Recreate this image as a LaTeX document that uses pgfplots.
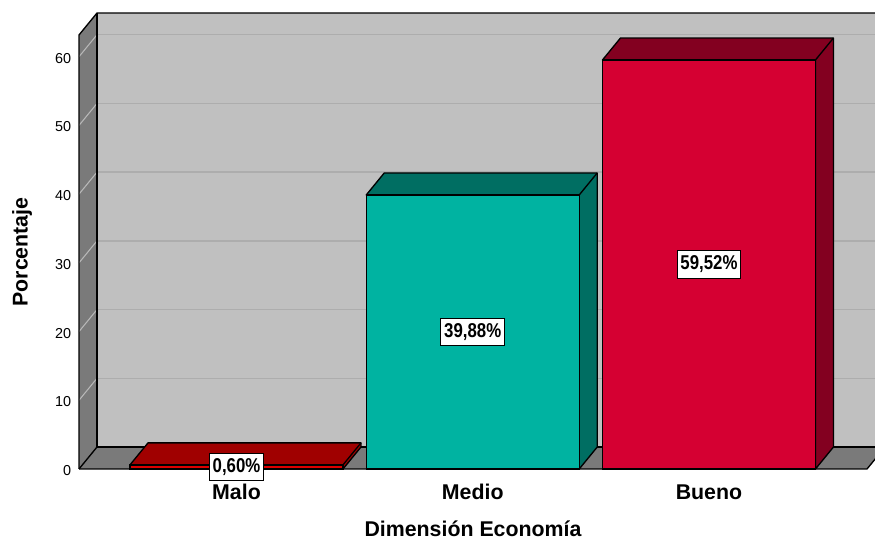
\documentclass[border=0pt]{standalone}
\usepackage{fontspec}
\setmainfont{Liberation Sans}
\usepackage{graphicx}
\usepackage{pgfplots}
\pgfplotsset{compat=1.18}

\definecolor{wallback}{HTML}{C0C0C0}
\definecolor{wallside}{HTML}{7A7A7A}
\definecolor{gridback}{HTML}{ADADAD}
\definecolor{gridside}{HTML}{B8B8B8}
\definecolor{maloF}{HTML}{DD0000}
\definecolor{maloD}{HTML}{A00000}
\definecolor{medioF}{HTML}{00B3A1}
\definecolor{medioD}{HTML}{006E62}
\definecolor{buenoF}{HTML}{D50032}
\definecolor{buenoD}{HTML}{830020}

\newcommand{\dX}{0.0762}
\newcommand{\dY}{3.2}
\newcommand{\hw}{0.4508}
\newcommand{\XL}{-0.6667}
\newcommand{\XR}{2.669}
\newcommand{\YT}{63.16}

% #1 category position, #2 value, #3 front colour, #4 dark colour
\newcommand{\threedbar}[4]{%
  \fill[#4, draw=black, line width=1pt, line join=round]
    (axis cs:#1+\hw,0) -- (axis cs:#1+\hw+\dX,\dY) -- (axis cs:#1+\hw+\dX,#2+\dY)
    -- (axis cs:#1-\hw+\dX,#2+\dY) -- (axis cs:#1-\hw,#2) -- (axis cs:#1+\hw,#2) -- cycle;
  \draw[black, line width=1pt] (axis cs:#1+\hw,#2) -- (axis cs:#1+\hw+\dX,#2+\dY);
  \addplot[ybar, bar width=0.9016, bar shift=0pt, fill=#3, draw=black, line width=1pt]
    coordinates {(#1,#2)};
}
\newcommand{\barlabel}[3]{%
  \node[fill=white, draw=black, line width=0.8pt, inner xsep=2.5pt, inner ysep=3.5pt,
        text height=11pt, text depth=2.8pt, font=\bfseries\fontsize{15}{16}\selectfont]
    at (axis cs:#1,#2/2) {\scalebox{0.84}[1]{#3}};
}

\begin{document}
\begin{tikzpicture}
\begin{axis}[
  at={(59.25pt,57.75pt)}, anchor=south west,
  scale only axis, width=591pt, height=325.5pt,
  xmin=\XL, xmax=\XR, ymin=0, ymax=\YT,
  clip=false,
  axis lines=left,
  axis line style={draw=none},
  major tick length=0pt,
  xtick={0,1,2},
  xticklabels={Malo,Medio,Bueno},
  ytick={0,10,20,30,40,50,60},
  /pgf/number format/assume math mode=true,
  yticklabel style={font=\fontsize{10.8}{12}\selectfont, xshift=-2.4pt, yshift=-1.2pt},
  xticklabel style={font=\bfseries\fontsize{16}{18}\selectfont, yshift=-8pt},
  xlabel={Dimensión Economía},
  ylabel={Porcentaje},
  xlabel style={font=\bfseries\fontsize{16}{18}\selectfont, at={(axis description cs:0.5,0)}, anchor=center, yshift=-45pt},
  ylabel style={font=\bfseries\fontsize{16}{18}\selectfont, at={(axis description cs:0,0.5)}, anchor=center, yshift=42.75pt},
]
% back wall
\fill[wallback] (axis cs:\XL+\dX,\dY) rectangle (axis cs:\XR+\dX+0.2,\YT+\dY);
% left wall
\fill[wallside] (axis cs:\XL,0) -- (axis cs:\XL,\YT) -- (axis cs:\XL+\dX,\YT+\dY) -- (axis cs:\XL+\dX,\dY) -- cycle;
% grid lines
\pgfplotsinvokeforeach{10,20,30,40,50,60}{
  \draw[gridback, line width=1pt] (axis cs:\XL+\dX,#1+\dY) -- (axis cs:\XR+\dX+0.2,#1+\dY);
  \draw[gridside, line width=0.8pt] (axis cs:\XL,#1) -- (axis cs:\XL+\dX,#1+\dY);
}
% floor
\fill[wallside] (axis cs:\XL,0) -- (axis cs:\XR,0) -- (axis cs:\XR+\dX,\dY) -- (axis cs:\XL+\dX,\dY) -- cycle;
% edges
\draw[black, line width=1pt] (axis cs:\XL,0) -- (axis cs:\XL,\YT) -- (axis cs:\XL+\dX,\YT+\dY) -- (axis cs:\XR+\dX+0.2,\YT+\dY);
\draw[black, line width=1pt] (axis cs:\XL+\dX,\YT+\dY) -- (axis cs:\XL+\dX,\dY) -- (axis cs:\XR+\dX+0.2,\dY);
\draw[black, line width=1pt] (axis cs:\XL,0) -- (axis cs:\XL+\dX,\dY);
\draw[black, line width=1pt] (axis cs:\XL,0) -- (axis cs:\XR,0) -- (axis cs:\XR+\dX,\dY);
% bars
\threedbar{0}{0.60}{maloF}{maloD}
\threedbar{1}{39.88}{medioF}{medioD}
\threedbar{2}{59.52}{buenoF}{buenoD}
% labels
\barlabel{0}{0.60}{0,60\%}
\barlabel{1}{39.88}{39,88\%}
\barlabel{2}{59.52}{59,52\%}
\end{axis}
\pgfresetboundingbox
\path (0,0) rectangle (656.25pt,409.5pt);
\end{tikzpicture}
\end{document}
